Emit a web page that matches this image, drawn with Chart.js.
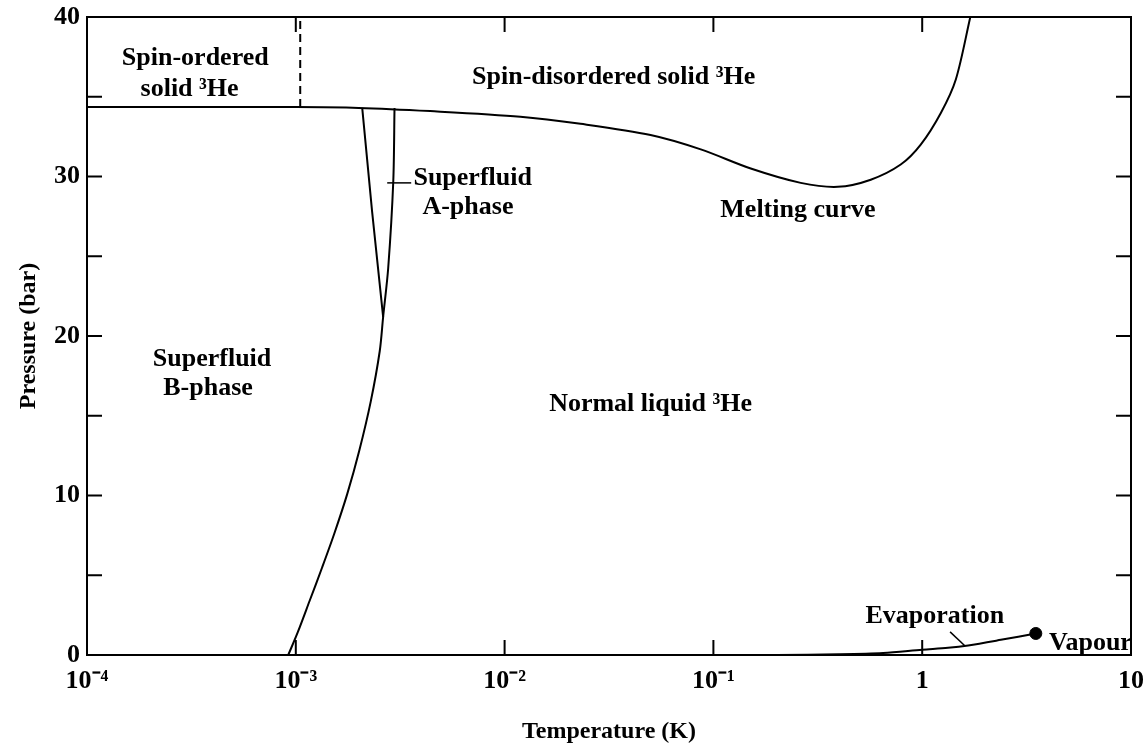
<!DOCTYPE html>
<html>
<head>
<meta charset="utf-8">
<script src="https://cdn.jsdelivr.net/npm/chart.js@4"></script>
<style>
  html, body { margin: 0; padding: 0; background: #fff; }
  #wrap { width: 1147px; height: 752px; }
</style>
</head>
<body>
<div id="wrap"><canvas id="phaseChart"></canvas></div>
<script>
// ================= DATA (T in K, P in bar) =================
// melting curve (solid / liquid boundary)
const meltT = [1e-4, 1e-3, 2e-3, 4.4e-3, 0.0119, 0.0231, 0.05, 0.087, 0.151, 0.262, 0.394, 0.567, 0.789, 0.984, 1.23, 1.45, 1.7];
const meltP = [34.35, 34.35, 34.3, 34.1, 33.75, 33.3, 32.6, 31.7, 30.5, 29.6, 29.35, 29.8, 30.75, 32.0, 34.0, 36.1, 40];

// superfluid transition Tc (normal liquid boundary)
const tcT = [0.92e-3, 1.02e-3, 1.165e-3, 1.338e-3, 1.528e-3, 1.764e-3, 2.013e-3, 2.286e-3, 2.524e-3, 2.62e-3, 2.77e-3, 2.93e-3, 2.97e-3];
const tcP = [0, 1.4, 3.4, 5.5, 7.6, 10.1, 12.8, 15.9, 19.06, 21.2, 24.25, 29.7, 34.3];

// A-B transition line
const abT = [2.62e-3, 2.32e-3, 2.08e-3];
const abP = [21.2, 27.8, 34.3];

// spin ordering transition in the solid (dashed)
const spinT = [1.05e-3, 1.05e-3];
const spinP = [34.35, 40];

// evaporation curve and critical point
const evapT = [0.2, 0.4, 0.65, 1.0, 1.33, 1.66, 2.38, 3.5];
const evapP = [0, 0.04, 0.12, 0.33, 0.45, 0.6, 0.95, 1.35];
const critT = [3.5];
const critP = [1.35];

// leader lines from labels
const leadAT = [2.74e-3, 3.57e-3];
const leadAP = [29.6, 29.6];
const leadEvT = [1.36, 1.6];
const leadEvP = [1.45, 0.58];

// ================= TICKS =================
const xTickValues = [1e-4, 1e-3, 1e-2, 1e-1, 1, 10];
const xTickLabels = ["10\u207B\u2074", "10\u207B\u00B3", "10\u207B\u00B2", "10\u207B\u00B9", "1", "10"];
const xTickMarks = [1e-3, 1e-2, 1e-1, 1];
const yTickMarks = [5, 10, 15, 20, 25, 30, 35];

// ================= REGION LABELS =================
const regionLabels = [
  { text: "Spin-ordered", t: 3.3e-4, p: 37.4, align: "center" },
  { text: "solid \u00B3He", t: 3.1e-4, p: 35.45, align: "center" },
  { text: "Spin-disordered solid \u00B3He", t: 0.0333, p: 36.2, align: "center" },
  { text: "Superfluid", t: 3.66e-3, p: 29.9, align: "left" },
  { text: "A-phase", t: 4.04e-3, p: 28.1, align: "left" },
  { text: "Melting curve", t: 0.254, p: 27.9, align: "center" },
  { text: "Superfluid", t: 3.97e-4, p: 18.56, align: "center" },
  { text: "B-phase", t: 3.8e-4, p: 16.7, align: "center" },
  { text: "Normal liquid \u00B3He", t: 0.05, p: 15.75, align: "center" },
  { text: "Evaporation", t: 1.15, p: 2.44, align: "center" },
  { text: "Vapour", t: 4.05, p: 0.75, align: "left" }
];

const FONT = "'Liberation Serif', 'Times New Roman', serif";
const zip = (xs, ys) => xs.map((x, i) => ({ x, y: ys[i] }));

function curve(xs, ys, extra) {
  return Object.assign({
    data: zip(xs, ys),
    showLine: true,
    borderColor: "#000",
    borderWidth: 2,
    pointRadius: 0,
    tension: 0.3,
    fill: false
  }, extra || {});
}

// ================= FRAME, TICKS, TEXT =================
const framePlugin = {
  id: "frame",
  afterDatasetsDraw(chart) {
    const { ctx, chartArea: a, scales: { x, y } } = chart;
    ctx.save();
    ctx.strokeStyle = "#000";
    ctx.lineWidth = 2;
    ctx.strokeRect(a.left, a.top, a.right - a.left, a.bottom - a.top);

    const len = 15;
    ctx.beginPath();
    yTickMarks.forEach(v => {
      const py = y.getPixelForValue(v);
      ctx.moveTo(a.left, py); ctx.lineTo(a.left + len, py);
      ctx.moveTo(a.right, py); ctx.lineTo(a.right - len, py);
    });
    xTickMarks.forEach(v => {
      const px = x.getPixelForValue(v);
      ctx.moveTo(px, a.bottom); ctx.lineTo(px, a.bottom - len);
      ctx.moveTo(px, a.top); ctx.lineTo(px, a.top + len);
    });
    ctx.stroke();

    ctx.fillStyle = "#000";
    ctx.font = "bold 26px " + FONT;
    ctx.textBaseline = "middle";
    regionLabels.forEach(l => {
      ctx.textAlign = l.align;
      ctx.fillText(l.text, x.getPixelForValue(l.t), y.getPixelForValue(l.p));
    });
    ctx.restore();
  }
};

new Chart(document.getElementById("phaseChart"), {
  type: "scatter",
  data: {
    datasets: [
      curve(meltT, meltP),
      curve(tcT, tcP),
      curve(abT, abP, { tension: 0 }),
      curve(spinT, spinP, { tension: 0, borderDash: [8, 5] }),
      curve(evapT, evapP),
      curve(leadAT, leadAP, { tension: 0, borderWidth: 1.5 }),
      curve(leadEvT, leadEvP, { tension: 0, borderWidth: 1.5 }),
      {
        data: zip(critT, critP),
        showLine: false,
        pointRadius: 6,
        pointBackgroundColor: "#000",
        pointBorderColor: "#000"
      }
    ]
  },
  options: {
    responsive: true,
    maintainAspectRatio: false,
    animation: false,
    layout: { padding: { top: 17, right: 16, left: 0, bottom: 0 } },
    plugins: { legend: { display: false }, tooltip: { enabled: false } },
    scales: {
      x: {
        type: "logarithmic",
        min: 1e-4,
        max: 10,
        afterBuildTicks: s => { s.ticks = xTickValues.map(v => ({ value: v })); },
        afterFit: s => { s.height = 97; s.paddingLeft = 0; s.paddingRight = 0; },
        ticks: {
          autoSkip: false,
          maxRotation: 0,
          color: "#000",
          padding: 11,
          font: { family: FONT, size: 26, weight: "bold" },
          callback: v => {
            const i = xTickValues.findIndex(t => Math.abs(Math.log10(t) - Math.log10(v)) < 1e-6);
            return i >= 0 ? xTickLabels[i] : "";
          }
        },
        grid: { display: false, drawTicks: false },
        border: { display: false },
        title: {
          display: true,
          text: "Temperature (K)",
          color: "#000",
          font: { family: FONT, size: 24, weight: "bold" },
          padding: { top: 0, bottom: 6 }
        }
      },
      y: {
        min: 0,
        max: 40,
        afterFit: s => { s.width = 87; s.paddingTop = 0; s.paddingBottom = 0; },
        ticks: {
          stepSize: 10,
          color: "#000",
          padding: 7,
          font: { family: FONT, size: 26, weight: "bold" }
        },
        grid: { display: false, drawTicks: false },
        border: { display: false },
        title: {
          display: true,
          text: "Pressure (bar)",
          color: "#000",
          font: { family: FONT, size: 24, weight: "bold" },
          padding: { top: 14, bottom: 0 }
        }
      }
    }
  },
  plugins: [framePlugin]
});
</script>
</body>
</html>
